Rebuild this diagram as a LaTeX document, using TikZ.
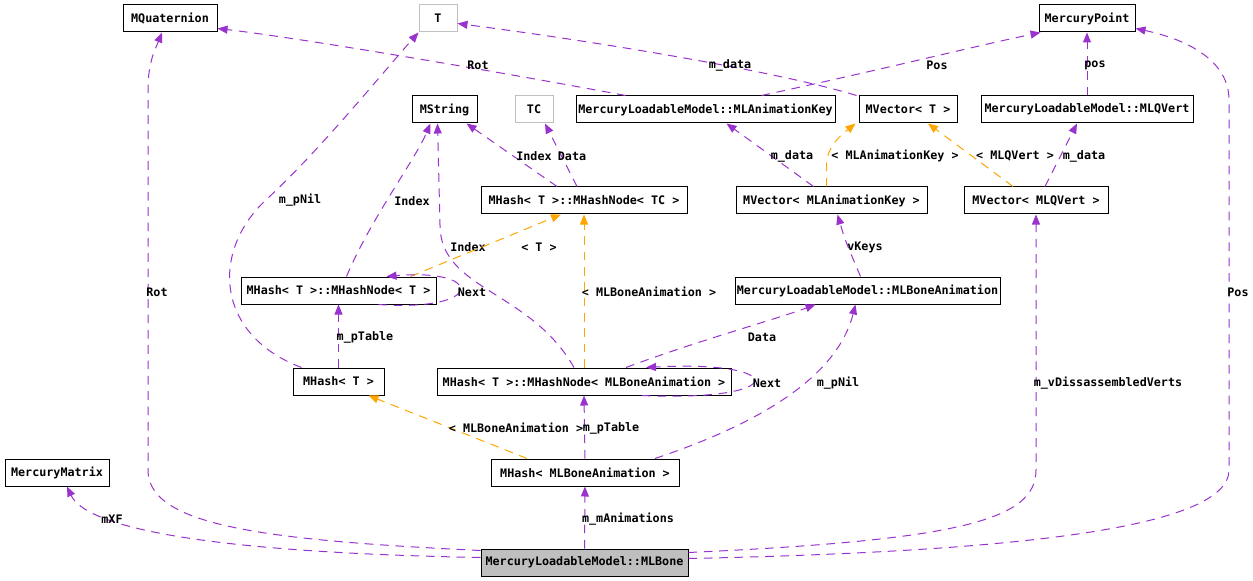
\documentclass[tikz,border=0pt]{standalone}
\usepackage{fontspec}
\setmonofont{DejaVu Sans Mono}
\usetikzlibrary{arrows.meta,calc}
\definecolor{doxpurple}{HTML}{9A32CD}
\definecolor{doxorange}{HTML}{FFA500}
\definecolor{doxgray}{HTML}{BFBFBF}

\begin{document}
\begin{tikzpicture}[
    x=0.75pt, y=-0.75pt,
    font=\ttfamily\bfseries\fontsize{8.8}{10}\selectfont,
    cls/.style={draw=black, line width=0.75pt, fill=white, minimum width=#1*0.75pt,
                minimum height=20.25pt, inner sep=0pt},
    tpl/.style={cls=#1, draw=doxgray},
    focus/.style={cls=#1, fill=doxgray},
    mem/.style={doxpurple, line width=0.75pt, dash pattern=on 6.5pt off 5pt,
                -{Triangle[length=7.5pt,width=6pt]}},
    inst/.style={mem, doxorange},
    lbl/.style={inner sep=0pt},
]
  \useasboundingbox (0,0) rectangle (1253,581);
  %% classes
  \node[cls=94]  (quat)   at (170,18.5)   {MQuaternion};
  \node[tpl=38]  (T)      at (438,18.5)   {T};
  \node[cls=96]  (point)  at (1087,18.5)  {MercuryPoint};
  \node[cls=65]  (mstr)   at (444.5,109.5) {MString};
  \node[tpl=38]  (tc)     at (534,109.5)  {TC};
  \node[cls=259] (mak)    at (705.5,109.5) {MercuryLoadableModel::MLAnimationKey};
  \node[cls=98]  (mvt)    at (908,109.5)  {MVector< T >};
  \node[cls=212] (mlq)    at (1087,109.5) {MercuryLoadableModel::MLQVert};
  \node[cls=206] (ntc)    at (584,200.5)  {MHash< T >::MHashNode< TC >};
  \node[cls=191] (mvak)   at (831.5,200.5) {MVector< MLAnimationKey >};
  \node[cls=144] (mvq)    at (1036,200.5) {MVector< MLQVert >};
  \node[cls=195] (nt)     at (338.5,290.5) {MHash< T >::MHashNode< T >};
  \node[cls=265] (mlba)   at (867.5,290.5) {MercuryLoadableModel::MLBoneAnimation};
  \node[cls=91]  (mhash)  at (338.5,381.5) {MHash< T >};
  \node[cls=294] (nodeba) at (584,381.5)  {MHash< T >::MHashNode< MLBoneAnimation >};
  \node[cls=104] (mat)    at (57,472.5)   {MercuryMatrix};
  \node[cls=188] (mhba)   at (585,472.5)  {MHash< MLBoneAnimation >};
  \node[focus=207] (bone) at (584.5,562.5) {MercuryLoadableModel::MLBone};

  %% members of MLBone
  \draw[mem] ($(bone.west)+(0,-12)$) .. controls (260,540) and (148,525) .. (148,470)
        -- (148,90) .. controls (148,62) and (155,50) .. ($(quat.south)+(-8,0)$);
  \draw[mem] ($(bone.west)+(0,-5)$) .. controls (190,552) and (85,525) .. ($(mat.south)+(10,0)$);
  \draw[mem] ($(bone.east)+(0,-4)$) .. controls (1000,552) and (1229,530) .. (1229,470)
        -- (1229,100) .. controls (1229,62) and (1190,40) .. ($(point.east)+(0,10)$);
  \draw[mem] ($(bone.east)+(0,-10)$) .. controls (960,540) and (1036,520) .. (1036,470) -- (mvq.south);
  \draw[mem] (bone) -- (mhba);
  \node[lbl] (l-rot1) at (157,292) {Rot};
  \node[lbl] (l-mxf) at (112,519) {mXF};
  \node[lbl] (l-pos1) at (1238,292) {Pos};
  \node[lbl] (l-verts) at (1108,383) {m\_vDissassembledVerts};
  \node[lbl] (l-anim) at (628,519) {m\_mAnimations};

  %% MHash< MLBoneAnimation >
  \draw[mem] (mhba.north) -- (nodeba.south);
  \draw[inst] ($(mhba.north)+(-58,0)$) -- ($(mhash.south)+(30,0)$);
  \draw[mem] ($(mhba.north)+(70,0)$) .. controls (740,430) and (835,385) .. ($(mlba.south)+(-12,0)$);
  \node[lbl] (l-tab1) at (611,428) {m\_pTable};
  \node[lbl] (l-inst1) at (516,428) {< MLBoneAnimation >};
  \node[lbl] (l-nil1) at (838,383) {m\_pNil};

  %% MHashNode< MLBoneAnimation >
  \draw[mem] ($(nodeba.north)+(42,0)$) .. controls (700,340) and (780,318) .. ($(mlba.south)+(-52,0)$);
  \draw[mem] ($(nodeba.south)+(58,0)$) .. controls (790,402) and (790,360) .. ($(nodeba.north)+(62,0)$);
  \draw[inst] (nodeba.north) -- (ntc.south);
  \draw[mem] ($(nodeba.north)+(-10,0)$) .. controls (530,290) and (440,290) .. (440,225)
        -- ($(mstr.south)+(-7,0)$);
  \node[lbl] (l-data1) at (762,337) {Data};
  \node[lbl] (l-next1) at (767,383) {Next};
  \node[lbl] (l-inst2) at (649,292) {< MLBoneAnimation >};
  \node[lbl] (l-idx1) at (468,247) {Index};

  %% MHash< T >
  \draw[mem] (mhash.north) -- (nt.south);
  \draw[mem] ($(mhash.north)+(-37,0)$) .. controls (215,335) and (210,250) .. (268,198)
        .. controls (320,150) and (385,70) .. (T.south west);
  \node[lbl] (l-tab2) at (365,337) {m\_pTable};
  \node[lbl] (l-nil2) at (300,200) {m\_pNil};

  %% MHashNode< T >
  \draw[inst] ($(nt.north)+(72,0)$) -- ($(ntc.south)+(-23,0)$);
  \draw[mem] ($(nt.south)+(40,0)$) .. controls (485,312) and (485,268) .. ($(nt.north)+(48,0)$);
  \draw[mem] ($(nt.north)+(8,0)$) .. controls (370,220) and (415,160) .. ($(mstr.south)+(-14,0)$);
  \node[lbl] (l-inst3) at (539,247) {< T >};
  \node[lbl] (l-next2) at (472,292) {Next};
  \node[lbl] (l-idx2) at (412,201) {Index};

  %% MHashNode< TC >
  \draw[mem] ($(ntc.north)+(-27,0)$) -- ($(mstr.south)+(22,0)$);
  \draw[mem] ($(ntc.north)+(-7,0)$) -- ($(tc.south)+(11,0)$);
  \node[lbl] (l-idx3) at (534,156) {Index};
  \node[lbl] (l-data2) at (572,156) {Data};

  %% MLAnimationKey and MVector< T >
  \draw[mem] ($(mak.north)+(-80,0)$) .. controls (500,72) and (300,38) .. ($(quat.east)+(0,10)$);
  \draw[mem] ($(mak.north)+(56,0)$) .. controls (880,70) and (980,45) .. ($(point.south west)+(2,0)$);
  \draw[mem] ($(mvt.north west)+(-2,0)$) .. controls (780,72) and (600,42) .. ($(T.east)+(0,5)$);
  \node[lbl] (l-rot2) at (478,65) {Rot};
  \node[lbl] (l-pos2) at (937,65) {Pos};
  \node[lbl] (l-data3) at (730,65) {m\_data};

  %% MVector instances
  \draw[mem] ($(mvak.north)+(-18,0)$) -- ($(mak.south)+(21,0)$);
  \draw[inst] ($(mvak.north)+(-5,0)$) -- (826.5,165) .. controls (826.5,145) and (845,132)
        .. ($(mvt.south west)+(-3,0)$);
  \draw[inst] ($(mvq.north)+(-23,0)$) -- ($(mvt.south)+(20,0)$);
  \draw[mem] ($(mvq.north)+(9,0)$) -- ($(mlq.south)+(-10,0)$);
  \node[lbl] (l-data4) at (792,156) {m\_data};
  \node[lbl] (l-inst4) at (895,156) {< MLAnimationKey >};
  \node[lbl] (l-inst5) at (1015,156) {< MLQVert >};
  \node[lbl] (l-data5) at (1084,156) {m\_data};

  %% MLQVert, MLBoneAnimation
  \draw[mem] (mlq) -- (point);
  \draw[mem] ($(mlba.north)+(-7,0)$) .. controls (845,240) .. ($(mvak.south)+(6,0)$);
  \node[lbl] (l-pos3) at (1095,65) {pos};
  \node[lbl] (l-keys) at (865,247) {vKeys};
\end{tikzpicture}
\end{document}
